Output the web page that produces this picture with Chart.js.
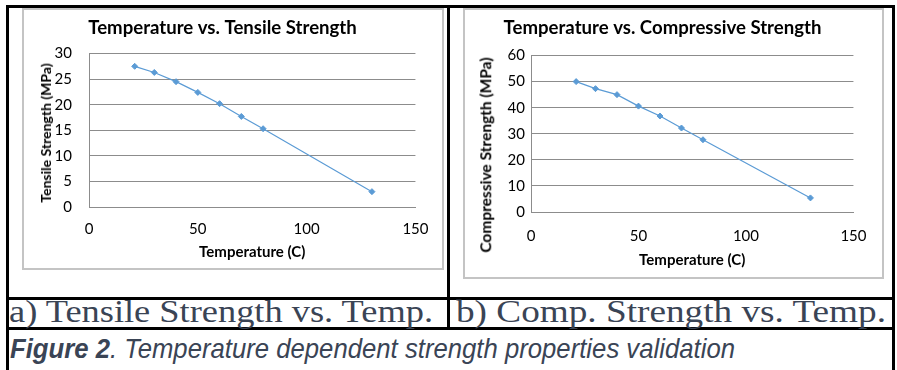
<!DOCTYPE html>
<html>
<head>
<meta charset="utf-8">
<script src="https://cdn.jsdelivr.net/npm/chart.js@4.4.1/dist/chart.umd.min.js"></script>
<style>
  body { margin: 0; background: #fff; width: 897px; height: 370px; position: relative; overflow: hidden; }
  .line { position: absolute; background: #000; }
  .frame { position: absolute; box-sizing: border-box; border: 2px solid #c4c4c4; background: #fff; }
  .frame canvas { position: absolute; left: 0; top: 0; }
  .cap { position: absolute; white-space: nowrap; color: #3a4455; transform-origin: 0 0; }
  .serif { font-family: "Liberation Serif", "Times New Roman", serif; font-size: 32px; line-height: 32px; }
  .fig { font-family: "Liberation Sans", Arial, sans-serif; font-size: 28px; line-height: 28px; font-style: italic; }
  .ytitle { position: absolute; white-space: nowrap; font-family: Lato; font-weight: bold; color: #000;
            line-height: 1; transform: translate(-50%, -50%) rotate(-90deg); }
</style>
</head>
<body>
<div class="line" style="left:6px;top:5px;width:889px;height:3px"></div>
<div class="line" style="left:6px;top:5px;width:3px;height:365px"></div>
<div class="line" style="left:892px;top:5px;width:3px;height:365px"></div>
<div class="line" style="left:447px;top:5px;width:3px;height:325px"></div>
<div class="line" style="left:6px;top:297px;width:889px;height:3px"></div>
<div class="line" style="left:6px;top:327px;width:889px;height:3px"></div>

<div class="frame" style="left:22px;top:8px;width:422px;height:262px"><canvas id="tensile" width="418" height="258"></canvas></div>
<div class="frame" style="left:463px;top:8px;width:421px;height:271px"><canvas id="compressive" width="417" height="267"></canvas></div>

<div class="ytitle" style="left:46px;top:133px;font-size:14px">Tensile Strength (MPa)</div>
<div class="ytitle" style="left:486px;top:155px;font-size:15.5px">Compressive Strength (MPa)</div>

<div class="cap serif" data-w="424" style="left:9px;top:295px">a) Tensile Strength vs. Temp.</div>
<div class="cap serif" data-w="430" style="left:456px;top:295px">b) Comp. Strength vs. Temp.</div>
<div class="cap fig" data-w="725" style="left:10px;top:335px"><b>Figure 2</b>. Temperature dependent strength properties validation</div>

<script>
const temperatures = [21, 30, 40, 50, 60, 70, 80, 130];
const tensileStrength = [27.5, 26.3, 24.5, 22.4, 20.2, 17.7, 15.3, 3.0];
const compressiveStrength = [50, 47.3, 45, 40.6, 36.8, 32.2, 27.7, 5.4];
const tempTicks = [0, 50, 100, 150];
const tensileTicks = [0, 5, 10, 15, 20, 25, 30];
const compressiveTicks = [0, 10, 20, 30, 40, 50, 60];

const blue = '#5b9bd5';
const gridGray = '#8c8c8c';
Chart.defaults.font.family = 'Lato';
Chart.defaults.color = '#000';

// fit the captions to the width they have in the picture
document.querySelectorAll('.cap').forEach(el => {
  const w = el.getBoundingClientRect().width;
  el.style.transform = 'scaleX(' + (el.dataset.w / w) + ')';
});

function makeChart(id, title, values, yTicks, lay) {
  const points = temperatures.map((t, i) => ({ x: t, y: values[i] }));
  return new Chart(document.getElementById(id), {
    type: 'scatter',
    data: {
      datasets: [{
        data: points,
        showLine: true,
        borderColor: blue,
        backgroundColor: blue,
        borderWidth: 1.2,
        pointStyle: 'rectRot',
        pointRadius: 3,
        pointBorderWidth: 1
      }]
    },
    options: {
      responsive: false,
      animation: false,
      devicePixelRatio: 1,
      layout: { padding: { left: 0, top: 0, right: lay.right, bottom: 0 } },
      plugins: {
        legend: { display: false },
        tooltip: { enabled: false },
        title: {
          display: true,
          text: title,
          color: '#000',
          font: { size: 18.6, weight: 'bold' },
          padding: { top: 6.8, bottom: lay.titleBottom }
        }
      },
      scales: {
        x: {
          type: 'linear',
          min: 0,
          max: 150,
          afterBuildTicks: s => { s.ticks = tempTicks.map(v => ({ value: v })); },
          afterFit: s => { s.height = lay.xHeight; },
          grid: { display: false, drawTicks: false },
          border: { display: true, color: gridGray, width: 1 },
          ticks: { font: { size: 15 }, padding: lay.xPad, maxRotation: 0 },
          title: { display: true, text: 'Temperature (C)', font: { size: 15, weight: 'bold' }, padding: { top: 0, bottom: lay.xTitleBottom } }
        },
        y: {
          min: yTicks[0],
          max: yTicks[yTicks.length - 1],
          afterBuildTicks: s => { s.ticks = yTicks.map(v => ({ value: v })); },
          afterFit: s => { s.width = lay.yWidth; },
          grid: { color: gridGray, drawTicks: false },
          border: { display: true, color: gridGray, width: 1 },
          ticks: { font: { size: 15 }, padding: lay.yPad }
        }
      }
    }
  });
}

makeChart('tensile', 'Temperature vs. Tensile Strength', tensileStrength, tensileTicks,
  { right: 21, titleBottom: 14.4, xHeight: 61, xPad: 13.5, xTitleBottom: 7, yWidth: 65, yPad: 17 });
makeChart('compressive', 'Temperature vs. Compressive Strength', compressiveStrength, compressiveTicks,
  { right: 22, titleBottom: 16.4, xHeight: 65, xPad: 15.5, xTitleBottom: 8, yWidth: 66, yPad: 6 });
</script>
</body>
</html>
